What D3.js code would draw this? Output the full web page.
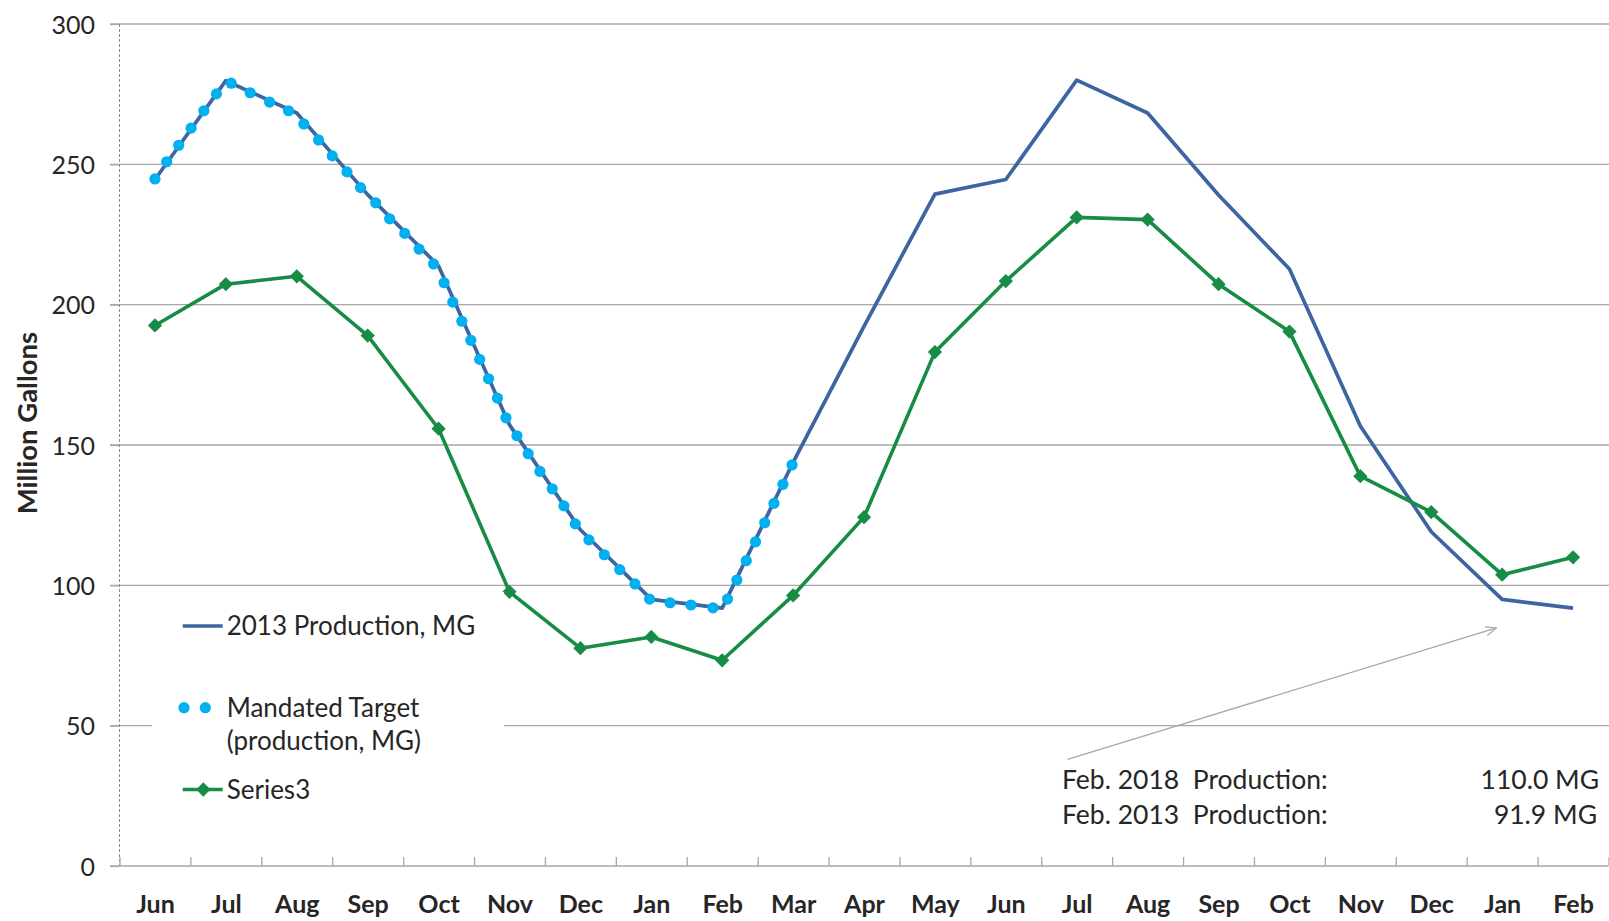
<!DOCTYPE html>
<html>
<head>
<meta charset="utf-8">
<script src="https://cdn.jsdelivr.net/npm/d3@7"></script>
<style>
  body { margin: 0; background: #fff; }
  svg { display: block; font-family: Lato, "Open Sans", sans-serif; }
</style>
</head>
<body>
<svg id="chart" width="1609" height="921"></svg>
<script>
var months = ['Jun', 'Jul', 'Aug', 'Sep', 'Oct', 'Nov', 'Dec', 'Jan', 'Feb', 'Mar', 'Apr', 'May',
  'Jun', 'Jul', 'Aug', 'Sep', 'Oct', 'Nov', 'Dec', 'Jan', 'Feb']
var production2013 = [244.6, 279.8, 268.3, 239.2, 213.8, 157.2, 119.8, 95.0, 91.9, 143.8, 192.3, 239.4,
  244.6, 280.0, 268.3, 239.1, 212.7, 156.8, 119.1, 95.0, 91.9]
var series3 = [192.6, 207.3, 210.1, 189.0, 155.8, 97.7, 77.6, 81.6, 73.3, 96.4, 124.3, 183.1,
  208.4, 231.1, 230.3, 207.3, 190.4, 138.9, 126.1, 103.8, 110.0]
// mandated target points: position in months from the first Jun, and value
var targetPos = [0, 0.165, 0.335, 0.51, 0.69, 0.867, 1.075, 1.343, 1.616, 1.884, 2.10, 2.308, 2.50,
  2.708, 2.90, 3.113, 3.31, 3.523, 3.725, 3.93, 4.078, 4.20, 4.328, 4.455, 4.58, 4.705, 4.83, 4.95,
  5.105, 5.264, 5.43, 5.603, 5.768, 5.928, 6.12, 6.337, 6.555, 6.77, 6.976, 7.265, 7.56, 7.87, 8.075,
  8.207, 8.34, 8.47, 8.60, 8.73, 8.857, 8.985]
var targetVal = [244.8, 250.9, 256.8, 262.9, 269.1, 275.1, 278.9, 275.5, 272.2, 269.1, 264.4, 258.7, 253.0,
  247.3, 241.7, 236.3, 230.6, 225.4, 219.8, 214.5, 207.8, 200.9, 194.1, 187.3, 180.5, 173.6, 166.7, 159.7,
  153.3, 146.9, 140.6, 134.4, 128.3, 121.9, 116.2, 110.9, 105.6, 100.5, 95.1, 93.8, 93.0, 92.0, 95.1,
  101.9, 108.8, 115.5, 122.3, 129.2, 136.0, 142.9]
var yTicks = [0, 50, 100, 150, 200, 250, 300]
var legendLabels = ['2013 Production, MG', ['Mandated Target', '(production, MG)'], 'Series3']

var blue = '#3d65a1', cyan = '#00b0f0', green = '#178c46', grid = '#a8a8a8', ink = '#262626'

var width = 1609
var plotLeft = 119.5, plotRight = 1608.5, plotTop = 24, plotBottom = 866

var svg = d3.select('#chart')

var x = d3.scaleLinear().domain([-0.5, months.length - 0.5]).range([plotLeft, plotRight])
var y = d3.scaleLinear().domain([0, 300]).range([plotBottom, plotTop])

// gridlines
svg.append('g')
  .selectAll('line')
  .data(yTicks.filter(function(d) { return d > 0 }))
  .join('line')
  .attr('x1', plotLeft - 9.5)
  .attr('x2', width)
  .attr('y1', function(d) { return y(d) })
  .attr('y2', function(d) { return y(d) })
  .attr('stroke', grid)
  .attr('stroke-width', 1.3)

// y axis
var yAxis = svg.append('g')
  .attr('transform', 'translate(' + plotLeft + ',0)')
  .call(d3.axisLeft(y).tickValues(yTicks).tickSize(9.5).tickPadding(15))
yAxis.select('.domain').remove()
yAxis.selectAll('.tick line').attr('stroke', grid).attr('stroke-width', 1.3)
yAxis.selectAll('text')
  .attr('font-family', 'Lato, sans-serif')
  .attr('font-size', 25)
  .attr('fill', ink)
  .attr('dy', '0.36em')
svg.append('line')
  .attr('x1', plotLeft).attr('x2', plotLeft)
  .attr('y1', plotTop).attr('y2', plotBottom)
  .attr('stroke', '#8c8c8c')
  .attr('stroke-dasharray', '3,2')

// x axis: boundary ticks pointing up, labels centred in each month
var xTicks = svg.append('g')
  .attr('transform', 'translate(0,' + plotBottom + ')')
  .call(d3.axisBottom(x).tickValues(d3.range(-0.5, months.length, 1)).tickSize(-9).tickFormat(''))
xTicks.select('.domain').remove()
xTicks.selectAll('.tick line').attr('stroke', grid).attr('stroke-width', 1.3)
svg.append('line')
  .attr('x1', plotLeft - 9.5).attr('x2', plotRight)
  .attr('y1', plotBottom).attr('y2', plotBottom)
  .attr('stroke', grid)
  .attr('stroke-width', 1.5)

var xLabels = svg.append('g')
  .attr('transform', 'translate(0,' + plotBottom + ')')
  .call(d3.axisBottom(x).tickValues(d3.range(months.length)).tickSize(0).tickPadding(29)
    .tickFormat(function(i) { return months[i] }))
xLabels.select('.domain').remove()
xLabels.selectAll('text')
  .attr('font-family', 'Lato, sans-serif')
  .attr('font-size', 25)
  .attr('font-weight', 'bold')
  .attr('fill', ink)

svg.append('text')
  .attr('transform', 'translate(27,423) rotate(-90)')
  .attr('text-anchor', 'middle')
  .attr('dy', '0.36em')
  .attr('font-size', 27.5)
  .attr('font-weight', 'bold')
  .attr('fill', ink)
  .text('Million Gallons')

// series
var line = d3.line()
  .x(function(d, i) { return x(i) })
  .y(function(d) { return y(d) })

svg.append('path')
  .datum(production2013)
  .attr('d', line)
  .attr('fill', 'none')
  .attr('stroke', blue)
  .attr('stroke-width', 3.7)
  .attr('stroke-linejoin', 'round')

svg.append('g')
  .selectAll('circle')
  .data(targetPos)
  .join('circle')
  .attr('cx', function(d) { return x(d) })
  .attr('cy', function(d, i) { return y(targetVal[i]) })
  .attr('r', 5.6)
  .attr('fill', cyan)

svg.append('path')
  .datum(series3)
  .attr('d', line)
  .attr('fill', 'none')
  .attr('stroke', green)
  .attr('stroke-width', 3.6)
  .attr('stroke-linejoin', 'round')

var diamond = d3.symbol().type(d3.symbolDiamond2).size(130)
svg.append('g')
  .selectAll('path')
  .data(series3)
  .join('path')
  .attr('d', diamond)
  .attr('transform', function(d, i) { return 'translate(' + x(i) + ',' + y(d) + ')' })
  .attr('fill', green)

// legend
var legend = svg.append('g')
legend.append('rect')
  .attr('x', 152).attr('y', 592)
  .attr('width', 352).attr('height', 222)
  .attr('fill', '#fff')
legend.append('line')
  .attr('x1', 182.7).attr('x2', 222.7)
  .attr('y1', 626).attr('y2', 626)
  .attr('stroke', blue).attr('stroke-width', 3.7)
legend.selectAll('circle.key')
  .data([184, 205.3])
  .join('circle')
  .attr('class', 'key')
  .attr('cx', function(d) { return d })
  .attr('cy', 707.7)
  .attr('r', 5.6)
  .attr('fill', cyan)
legend.append('line')
  .attr('x1', 182.7).attr('x2', 222.7)
  .attr('y1', 789.5).attr('y2', 789.5)
  .attr('stroke', green).attr('stroke-width', 3.6)
legend.append('path')
  .attr('d', diamond)
  .attr('transform', 'translate(203.3,789.5)')
  .attr('fill', green)

var legendText = legend.append('g')
  .attr('font-size', 26)
  .attr('fill', ink)
legendText.append('text').attr('x', 226.7).attr('y', 635).text(legendLabels[0])
legendText.append('text').attr('x', 226.7).attr('y', 716.7).text(legendLabels[1][0])
legendText.append('text').attr('x', 226.7).attr('y', 750).text(legendLabels[1][1])
legendText.append('text').attr('x', 226.7).attr('y', 798.5).text(legendLabels[2])

// annotation
svg.append('defs').append('marker')
  .attr('id', 'arrow')
  .attr('viewBox', '0 0 12 10')
  .attr('refX', 11).attr('refY', 5)
  .attr('markerWidth', 12).attr('markerHeight', 10)
  .attr('markerUnits', 'userSpaceOnUse')
  .attr('orient', 'auto')
  .append('path')
  .attr('d', 'M0,0.5 L11,5 L0,9.5')
  .attr('fill', 'none')
  .attr('stroke', grid)
  .attr('stroke-width', 1.2)

svg.append('line')
  .attr('x1', x(12.87)).attr('y1', y(38.0))
  .attr('x2', x(18.92)).attr('y2', y(84.8))
  .attr('stroke', grid)
  .attr('stroke-width', 1.3)
  .attr('marker-end', 'url(#arrow)')

var last = months.length - 1
var notes = svg.append('g')
  .attr('font-size', 26.5)
  .attr('fill', ink)
notes.append('text').attr('x', 1062).attr('y', 788.5).attr('xml:space', 'preserve')
  .text('Feb. 2018  Production:')
notes.append('text').attr('x', 1599).attr('y', 788.5).attr('text-anchor', 'end')
  .text(series3[last].toFixed(1) + ' MG')
notes.append('text').attr('x', 1062).attr('y', 823.5).attr('xml:space', 'preserve')
  .text('Feb. 2013  Production:')
notes.append('text').attr('x', 1597).attr('y', 823.5).attr('text-anchor', 'end')
  .text(production2013[last].toFixed(1) + ' MG')
</script>
</body>
</html>
